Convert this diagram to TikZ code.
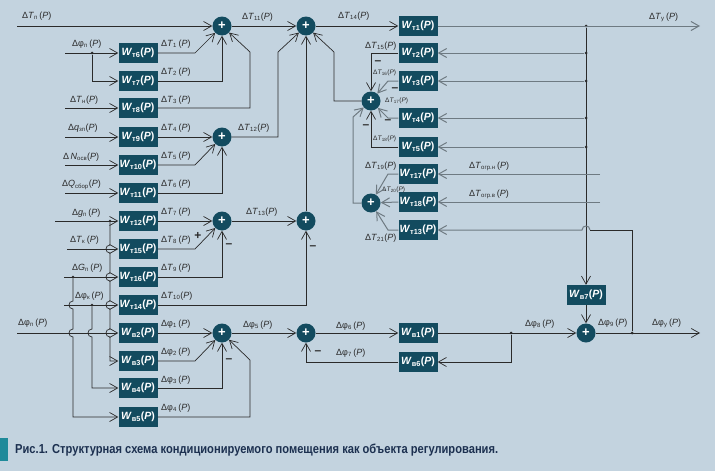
\documentclass[tikz,border=0pt]{standalone}
\usepackage{fontspec}
\setmainfont{Liberation Sans}
\usetikzlibrary{arrows.meta}
\definecolor{bgc}{HTML}{C3D3DF}
\definecolor{blkc}{HTML}{134B5F}
\definecolor{lnc}{HTML}{2A2A2A}
\definecolor{glc}{HTML}{6E7A82}
\definecolor{txtc}{HTML}{2A2A2A}
\definecolor{capc}{HTML}{1F8A9A}
\definecolor{captc}{HTML}{1C3050}
\newcommand\blkW[1]{\textit{W}\textsubscript{#1}(\textit{P})}
\newcommand\lblT[1]{Δ\textit{T}\textsubscript{#1}\,(\textit{P})}
\newcommand\lblTn[1]{Δ\textit{T}\textsubscript{#1}(\textit{P})}
\newcommand\lblF[1]{Δφ\textsubscript{#1}\,(\textit{P})}
\begin{document}
\begin{tikzpicture}[x=1pt,y=-1pt,
 blk/.style={fill=blkc, text=white, minimum width=39pt, minimum height=20pt, inner sep=0pt, font=\fontsize{10.5}{12}\selectfont\bfseries},
 sum/.style={circle, fill=blkc, minimum size=19pt, inner sep=0pt, text=white, font=\fontsize{13}{13}\selectfont\bfseries},
 lbl/.style={inner sep=0pt, anchor=west, font=\fontsize{9}{10}\selectfont, text=txtc},
 slbl/.style={inner sep=0pt, anchor=west, font=\fontsize{6.5}{7}\selectfont, text=txtc},
 ln/.style={draw=lnc, line width=0.7pt},
 gl/.style={draw=glc, line width=1pt},
 arr/.style={-{Straight Barb[length=8pt,width=9pt]}},
 dotn/.style={circle, fill=lnc, inner sep=0pt, minimum size=3pt},
 sgn/.style={inner sep=0pt, font=\fontsize{12}{12}\selectfont\bfseries, text=lnc}]
\fill[bgc] (0,0) rectangle (715,471);
\useasboundingbox (0,0) rectangle (715,471);

% ---------- left blocks ----------
\node[blk] (t6) at (138,53) {\blkW{т6}};
\node[blk] (t7) at (138,81) {\blkW{т7}};
\node[blk] (t8) at (138,108) {\blkW{т8}};
\node[blk] (t9) at (138,137) {\blkW{т9}};
\node[blk] (t10) at (138,165) {\blkW{т10}};
\node[blk] (t11) at (138,193) {\blkW{т11}};
\node[blk] (t12) at (138,221) {\blkW{т12}};
\node[blk] (t15) at (138,249) {\blkW{т15}};
\node[blk] (t16) at (138,277) {\blkW{т16}};
\node[blk] (t14) at (138,305) {\blkW{т14}};
\node[blk] (b2) at (138,333) {\blkW{в2}};
\node[blk] (b3) at (138,361) {\blkW{в3}};
\node[blk] (b4) at (138,388) {\blkW{в4}};
\node[blk] (b5) at (138,417) {\blkW{в5}};

% ---------- right blocks ----------
\node[blk] (r1) at (418,26) {\blkW{т1}};
\node[blk] (r2) at (418,53) {\blkW{т2}};
\node[blk] (r3) at (418,81) {\blkW{т3}};
\node[blk] (r4) at (418,118) {\blkW{т4}};
\node[blk] (r5) at (418,147) {\blkW{т5}};
\node[blk] (r17) at (418,174) {\blkW{т17}};
\node[blk] (r18) at (418,202) {\blkW{т18}};
\node[blk] (r13) at (418,230) {\blkW{т13}};
\node[blk] (b1) at (418,333) {\blkW{в1}};
\node[blk] (b6) at (418,362) {\blkW{в6}};
\node[blk] (b7) at (586,295) {\blkW{в7}};

% ---------- summing junctions ----------
\node[sum] (s1) at (222,26) {+};
\node[sum] (s2) at (306,26) {+};
\node[sum] (s3) at (222,137) {+};
\node[sum] (s4) at (222,221) {+};
\node[sum] (s5) at (306,221) {+};
\node[sum] (s6) at (222,333) {+};
\node[sum] (s7) at (306,333) {+};
\node[sum] (s8) at (371,101) {+};
\node[sum] (s9) at (371,203) {+};
\node[sum] (s10) at (586,333) {+};

% ---------- dots ----------
\node[dotn] (dfp) at (92,53) {};
\node[dotn] (dgp) at (110,221) {};
\node[dotn] (dGp) at (73,277) {};
\node[dotn] (dfk) at (92,305) {};
\node[dotn] (df8) at (511,333) {};
\node[dotn] (df9) at (632,333) {};
\node[dotn] (db1) at (586,26) {};
\node[dotn] (db2) at (586,53) {};
\node[dotn] (db3) at (586,81) {};
\node[dotn] (db4) at (586,118) {};
\node[dotn] (db5) at (586,147) {};

% ---------- input coordinates ----------
\coordinate (iTp) at (17,26);
\coordinate (ifp) at (65,53);
\coordinate (iTn) at (65,108);
\coordinate (iq) at (65,137);
\coordinate (iN) at (65,165);
\coordinate (iQ) at (65,193);
\coordinate (ig) at (55,221);
\coordinate (iTk) at (67,249);
\coordinate (iG) at (64,277);
\coordinate (ifk) at (64,305);
\coordinate (ifpb) at (17,333);
\coordinate (oTy) at (700,26);
\coordinate (ofy) at (700,333);
\coordinate (ion) at (600,174);
\coordinate (iov) at (600,202);

% ---------- input labels ----------
\node[lbl] (LTp) at (22,16) {\lblT{п}};
\node[lbl] (Lfp) at (72,44) {\lblF{п}};
\node[lbl] (LTn) at (70,100) {\lblTn{н}};
\node[lbl] (Lq) at (68,128) {Δ\textit{q}\textsubscript{зп}(\textit{P})};
\node[lbl] (LN) at (63,157) {Δ\,\textit{N}\textsubscript{осв}(\textit{P})};
\node[lbl] (LQ) at (62,185) {Δ\textit{Q}\textsubscript{сбор}(\textit{P})};
\node[lbl] (Lg) at (72,213) {Δ\textit{g}\textsubscript{п}\,(\textit{P})};
\node[lbl] (LTk) at (70,240) {\lblT{к}};
\node[lbl] (LG) at (72,268) {Δ\textit{G}\textsubscript{п}\,(\textit{P})};
\node[lbl] (Lfk) at (75,296) {\lblF{к}};
\node[lbl] (Lfpb) at (18,323) {\lblF{п}};

% ---------- block output labels ----------
\node[lbl] (L1) at (161,44) {\lblT{1}};
\node[lbl] (L2) at (161,72) {\lblT{2}};
\node[lbl] (L3) at (161,100) {\lblT{3}};
\node[lbl] (L4) at (161,128) {\lblT{4}};
\node[lbl] (L5) at (161,156) {\lblT{5}};
\node[lbl] (L6) at (161,184) {\lblT{6}};
\node[lbl] (L7) at (161,212) {\lblT{7}};
\node[lbl] (L8) at (161,240) {\lblT{8}};
\node[lbl] (L9) at (161,268) {\lblT{9}};
\node[lbl] (L10) at (161,296) {\lblTn{10}};
\node[lbl] (Lf1) at (161,324) {\lblF{1}};
\node[lbl] (Lf2) at (161,352) {\lblF{2}};
\node[lbl] (Lf3) at (161,380) {\lblF{3}};
\node[lbl] (Lf4) at (161,408) {\lblF{4}};
\node[lbl] (L11) at (242,17) {\lblTn{11}};
\node[lbl] (L12) at (238,128) {\lblTn{12}};
\node[lbl] (L13) at (246,212) {\lblTn{13}};
\node[lbl] (L14) at (338,16) {\lblTn{14}};
\node[lbl] (Lf5) at (243,325) {\lblF{5}};
\node[lbl] (Lf6) at (336,326) {\lblF{6}};
\node[lbl] (Lf7) at (336,353) {\lblF{7}};
\node[lbl] (Lf8) at (525,324) {\lblF{8}};
\node[lbl] (Lf9) at (598,323) {\lblF{9}};
\node[lbl] (Lfy) at (652,323) {\lblF{у}};
\node[lbl] (LTy) at (649,17) {\lblT{у}};
\node[lbl] (L15) at (365,46) {\lblTn{15}};
\node[slbl] (L16) at (373,73) {\lblTn{16}};
\node[slbl] (L17) at (385,101) {\lblTn{17}};
\node[slbl] (L18) at (373,139) {\lblTn{18}};
\node[lbl] (L19) at (365,166) {\lblTn{19}};
\node[slbl] (L20) at (382,190) {\lblTn{20}};
\node[lbl] (L21) at (365,238) {\lblTn{21}};
\node[lbl] (Lon) at (469,166) {Δ\textit{T}\textsubscript{огр.н}\,(\textit{P})};
\node[lbl] (Lov) at (469,194) {Δ\textit{T}\textsubscript{огр.в}\,(\textit{P})};

% ---------- signs ----------
\node[sgn] (p8) at (198,236) {+};
\node[sgn] (m9) at (229,246) {–};
\node[sgn] (m10) at (313,248) {–};
\node[sgn] (mf3) at (229,361) {–};
\node[sgn] (mf7) at (318,353) {–};
\node[sgn] (m15) at (378,63) {–};
\node[sgn] (m16) at (395,90) {–};
\node[sgn] (m17) at (388,122) {–};
\node[sgn] (m18) at (366,127) {–};

% ---------- top group ----------
\draw[ln,arr] (iTp) -- (s1);
\draw[ln,arr] (ifp) -- (t6.west);
\draw[ln,arr] (dfp) |- (t7.west);
\draw[ln,arr] (t6.east) -- (195,53) -- (s1);
\draw[ln,arr] (t7.east) -- (222,81) -- (s1);
\draw[ln,arr] (iTn) -- (t8.west);
\draw[ln,arr] (t8.east) -- (250,108) -- (250,52) -- (s1);
\draw[ln,arr] (iq) -- (t9.west);
\draw[ln,arr] (t9.east) -- (s3);
\draw[ln,arr] (iN) -- (t10.west);
\draw[ln,arr] (t10.east) -- (195,165) -- (s3);
\draw[ln,arr] (iQ) -- (t11.west);
\draw[ln,arr] (t11.east) -- (222,193) -- (s3);
\draw[ln,arr] (s1) -- (s2);
\draw[ln,arr] (s3) -- (278,137) -- (278,52) -- (s2);
\draw[ln,arr] (s5) -- (s2);
\draw[ln,arr] (s8) -- (334,101) -- (334,52) -- (s2);
\draw[ln,arr] (s2) -- (r1.west);

% ---------- middle group ----------
\draw[ln,arr] (ig) -- (t12.west);
\draw[ln,arr] (t12.east) -- (s4);
\draw[ln,arr] (iTk) -- (t15.west);
\draw[ln,arr] (t15.east) -- (195,249) -- (s4);
\draw[ln,arr] (iG) -- (t16.west);
\draw[ln,arr] (t16.east) -- (222,277) -- (s4);
\draw[ln,arr] (ifk) -- (t14.west);
\draw[ln,arr] (t14.east) -- (306,305) -- (s5);
\draw[ln,arr] (s4) -- (s5);

% vertical lines with hops
\draw[ln,arr] (dgp) -- (110,245) .. controls (104.7,245) and (104.7,253) .. (110,253)
  -- (110,273) .. controls (104.7,273) and (104.7,281) .. (110,281)
  -- (110,301) .. controls (104.7,301) and (104.7,309) .. (110,309)
  -- (110,329) .. controls (104.7,329) and (104.7,337) .. (110,337)
  -- (110,361) -- (b3.west);
\draw[ln,arr] (dGp) -- (73,301) .. controls (67.7,301) and (67.7,309) .. (73,309)
  -- (73,329) .. controls (67.7,329) and (67.7,337) .. (73,337)
  -- (73,417) -- (b5.west);
\draw[ln,arr] (dfk) -- (92,329) .. controls (86.7,329) and (86.7,337) .. (92,337)
  -- (92,388) -- (b4.west);

% ---------- bottom group ----------
\draw[ln,arr] (ifpb) -- (b2.west);
\draw[ln,arr] (b2.east) -- (s6);
\draw[ln,arr] (b3.east) -- (195,361) -- (s6);
\draw[ln,arr] (b4.east) -- (222,388) -- (s6);
\draw[ln,arr] (b5.east) -- (250,417) -- (250,360) -- (s6);
\draw[ln,arr] (s6) -- (s7);
\draw[ln,arr] (s7) -- (b1.west);
\draw[ln,arr] (b1.east) -- (s10);
\draw[ln,arr] (df8) -- (511,362) -- (b6.east);
\draw[ln,arr] (b6.west) -- (306,362) -- (s7);
\draw[ln,arr] (s10) -- (ofy);

% ---------- right feedback group ----------
\draw[ln,arr] (r2.west) -- (371,53) -- (s8);
\draw[gl,arr] (r3.west) -- (388,81) -- (s8);
\draw[gl,arr] (r4.west) -- (388,118) -- (s8);
\draw[ln,arr] (r5.west) -- (371,147) -- (s8);
\draw[gl,arr] (s9) -- (353,203) -- (353,117) -- (s8);
\draw[gl,arr] (r17.west) -- (388,174) -- (s9);
\draw[gl,arr] (r18.west) -- (s9);
\draw[gl,arr] (r13.west) -- (388,230) -- (s9);

\draw[gl,arr] (r1.east) -- (oTy);
\draw[ln,arr] (db1) -- (b7.north);
\draw[gl,arr] (db2) -- (r2.east);
\draw[gl,arr] (db3) -- (r3.east);
\draw[gl,arr] (db4) -- (r4.east);
\draw[gl,arr] (db5) -- (r5.east);
\draw[gl,arr] (ion) -- (r17.east);
\draw[gl,arr] (iov) -- (r18.east);
\draw[ln,arr] (b7.south) -- (s10);
\draw[ln] (df9) -- (632,230) -- (590,230);
\draw[gl,arr] (590,230) .. controls (590,224.7) and (582,224.7) .. (582,230) -- (r13.east);

% ---------- caption ----------
\node[fill=capc, minimum width=8pt, minimum height=23pt, inner sep=0pt, anchor=north west] (bar) at (0,438) {};
\node[anchor=west, inner sep=0pt, text=captc, font=\fontsize{13}{15}\selectfont\bfseries] (cap) at (15,450)
  {\scalebox{0.857}[1]{Рис.1. Структурная схема кондиционируемого помещения как объекта регулирования.}};
\end{tikzpicture}
\end{document}
